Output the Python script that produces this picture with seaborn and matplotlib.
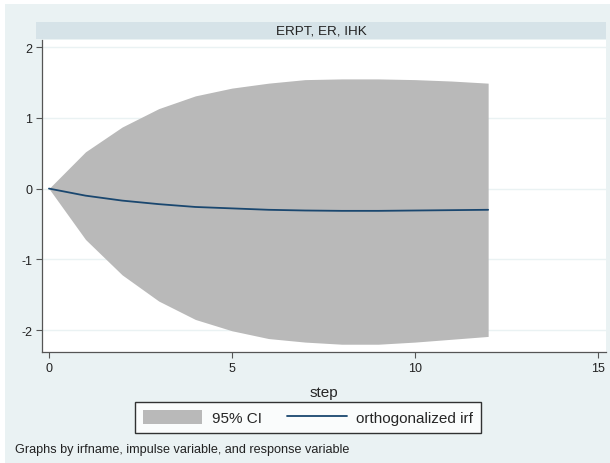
import matplotlib.pyplot as plt
import numpy as np
import seaborn as sns
from matplotlib.lines import Line2D
from matplotlib.patches import Patch, Rectangle

# data
steps = np.arange(0, 13)
irf = [0.0, -0.10, -0.17, -0.22, -0.26, -0.28, -0.30, -0.31, -0.315, -0.315, -0.31, -0.305, -0.30]
ci_upper = [0.0, 0.52, 0.87, 1.13, 1.31, 1.42, 1.49, 1.54, 1.55, 1.55, 1.54, 1.52, 1.49]
ci_lower = [0.0, -0.72, -1.22, -1.59, -1.85, -2.01, -2.12, -2.17, -2.20, -2.20, -2.17, -2.13, -2.09]

panel_title = "ERPT, ER, IHK"
yticks = [-2, -1, 0, 1, 2]
xticks = [0, 5, 10, 15]

bg = "#EAF2F3"
strip = "#D6E3E8"
band = "#B9B9B9"
navy = "#1A476F"

sns.set_style("white")
plt.rcParams["font.family"] = ["Liberation Sans", "DejaVu Sans"]

fig = plt.figure(figsize=(6.1, 4.64), dpi=100)
fig.patch.set_facecolor("white")
fig.patches.append(Rectangle((5 / 610, 0), 1, 1 - 5 / 464, transform=fig.transFigure,
                             facecolor=bg, edgecolor="none", zorder=-10))

ax = fig.add_axes([42 / 610, 1 - 353 / 464, 564 / 610, 312 / 464])
ax.set_facecolor("white")

ax.fill_between(steps, ci_lower, ci_upper, color=band, linewidth=0, zorder=2)
sns.lineplot(x=steps, y=irf, color=navy, linewidth=1.3, ax=ax, zorder=3)

ax.set_xlim(-0.19, 15.22)
ax.set_ylim(-2.31, 2.1)
ax.set_yticks(yticks)
ax.set_xticks(xticks)
ax.set_yticklabels([str(v) for v in yticks])
ax.set_xticklabels([str(v) for v in xticks])
for y in yticks:
    ax.axhline(y, color=bg, linewidth=1.0, zorder=1)

for s in ["top", "right"]:
    ax.spines[s].set_visible(False)
for s in ["left", "bottom"]:
    ax.spines[s].set_color("#555555")
    ax.spines[s].set_linewidth(0.9)
ax.tick_params(axis="both", direction="out", length=4, width=0.8, color="#555555",
               labelsize=9, labelcolor="#222222", pad=3, left=True, bottom=True)
ax.set_xlabel("step", fontsize=11, labelpad=8)
ax.set_ylabel("")

# title strip
fig.patches.append(Rectangle((36 / 610, 1 - 40 / 464), 570 / 610, 17 / 464,
                             transform=fig.transFigure, facecolor=strip,
                             edgecolor="none", zorder=-5))
fig.text((36 + 606) / 2 / 610, 1 - 31.5 / 464, panel_title, ha="center", va="center",
         fontsize=9.7, color="#222222")

handles = [Patch(facecolor=band, edgecolor="none"),
           Line2D([0], [0], color=navy, linewidth=1.3)]
leg = fig.legend(handles, ["95% CI", "orthogonalized irf"], loc="center",
                 bbox_to_anchor=(308 / 610, 1 - 418.5 / 464), ncol=2, fontsize=11,
                 frameon=True, fancybox=False, handlelength=3.9, handleheight=1.1,
                 handletextpad=0.6, columnspacing=1.7, borderpad=0.5,
                 borderaxespad=0)
leg.get_frame().set_edgecolor("black")
leg.get_frame().set_linewidth(1.0)
leg.get_frame().set_facecolor("white")

fig.text(15 / 610, 1 - 450 / 464, "Graphs by irfname, impulse variable, and response variable",
         ha="left", va="center", fontsize=9.1, color="#222222")

fig.savefig("out.png", dpi=100, facecolor=fig.get_facecolor())
